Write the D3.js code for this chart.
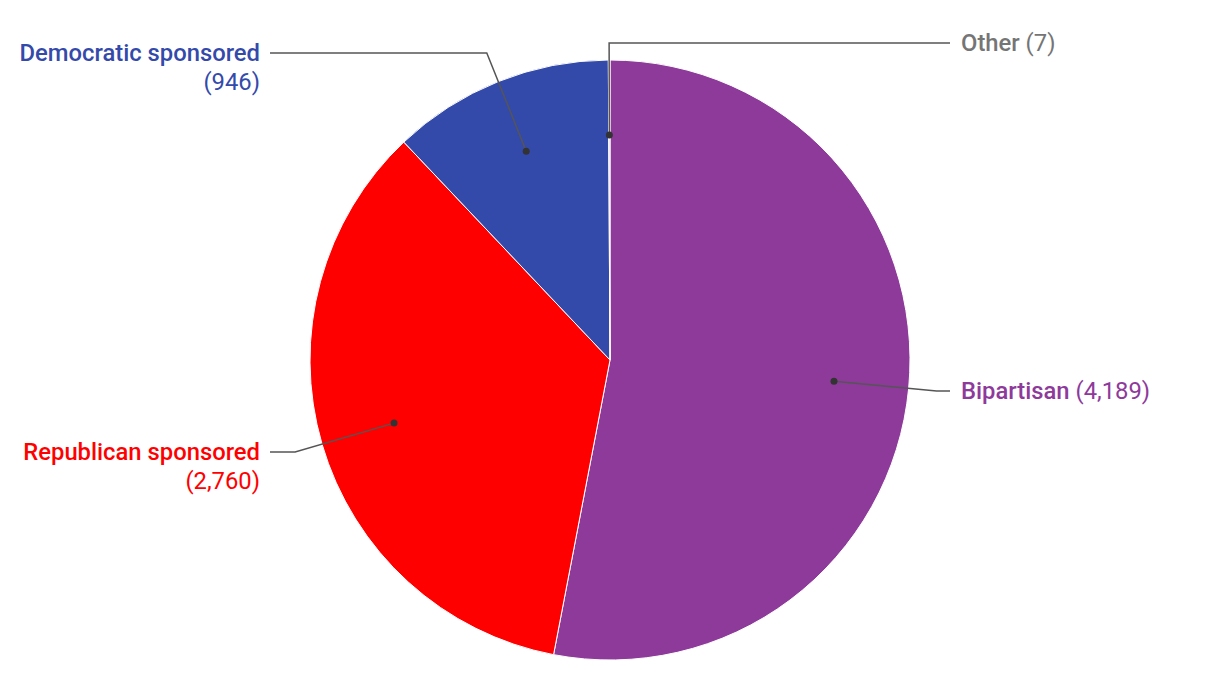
<!DOCTYPE html>
<html><head><meta charset="utf-8">
<script src="https://cdn.jsdelivr.net/npm/d3@7"></script>
<style>body{margin:0;background:#fff}svg{display:block}text{font-family:Roboto,sans-serif}</style>
</head><body>
<svg id="c" width="1220" height="700"></svg>
<script>
const categories = ["Bipartisan", "Republican sponsored", "Democratic sponsored", "Other"];
const values = [4189, 2760, 946, 7];
const colors = ["#8e3a9b", "#ff0000", "#344aab", "#757575"];
const sliceColors = ["#8e3a9b", "#ff0000", "#344aab", "#cccccc"];
const labelY = [391, 452, 53, 43];

const svg = d3.select("#c");
const cx = 610, cy = 360, R = 300;
const FS = 23.8;
const g = svg.append("g").attr("transform", `translate(${cx},${cy})`);
const data = categories.map((c, i) => ({c, v: values[i], i}));
const pie = d3.pie().value(d => d.v).sort(null);
const arcs = pie(data);
const arc = d3.arc().innerRadius(0).outerRadius(R);
g.selectAll("path.s").data(arcs).join("path").attr("class", "s")
  .attr("d", arc).attr("fill", d => sliceColors[d.data.i])
  .attr("stroke", "#fff").attr("stroke-width", 1);

const fmt = d3.format(",");
arcs.forEach(a => {
  const i = a.data.i;
  const m = (a.startAngle + a.endAngle) / 2;
  const sx = Math.sin(m), sy = -Math.cos(m);
  const p0 = [0.75 * R * sx, 0.75 * R * sy];
  const ly = labelY[i] - cy;
  const t = (ly - p0[1]) / sy;
  const ex = p0[0] + t * sx;
  const right = sx >= 0 || i === 3;
  const endX = right ? 950 - cx : 270 - cx;
  g.append("path").attr("d", `M${p0[0]},${p0[1]}L${ex},${ly}L${endX},${ly}`)
    .attr("fill", "none").attr("stroke", "#555").attr("stroke-width", 1.5);
  g.append("circle").attr("cx", p0[0]).attr("cy", p0[1]).attr("r", 3.5).attr("fill", "#333");
  const col = colors[i];
  if (right) {
    const tx = g.append("text").attr("x", endX + 11).attr("y", ly).attr("dy", "0.35em")
      .attr("font-size", FS).attr("fill", col);
    tx.append("tspan").attr("font-weight", 500).text(a.data.c);
    tx.append("tspan").text(" (" + fmt(a.data.v) + ")");
  } else {
    g.append("text").attr("x", endX - 10).attr("y", ly).attr("dy", "0.35em")
      .attr("font-size", FS).attr("fill", col).attr("font-weight", 500)
      .attr("text-anchor", "end").text(a.data.c);
    g.append("text").attr("x", endX - 10).attr("y", ly + 29).attr("dy", "0.35em")
      .attr("font-size", FS).attr("fill", col)
      .attr("text-anchor", "end").text("(" + fmt(a.data.v) + ")");
  }
});
</script>
</body></html>
